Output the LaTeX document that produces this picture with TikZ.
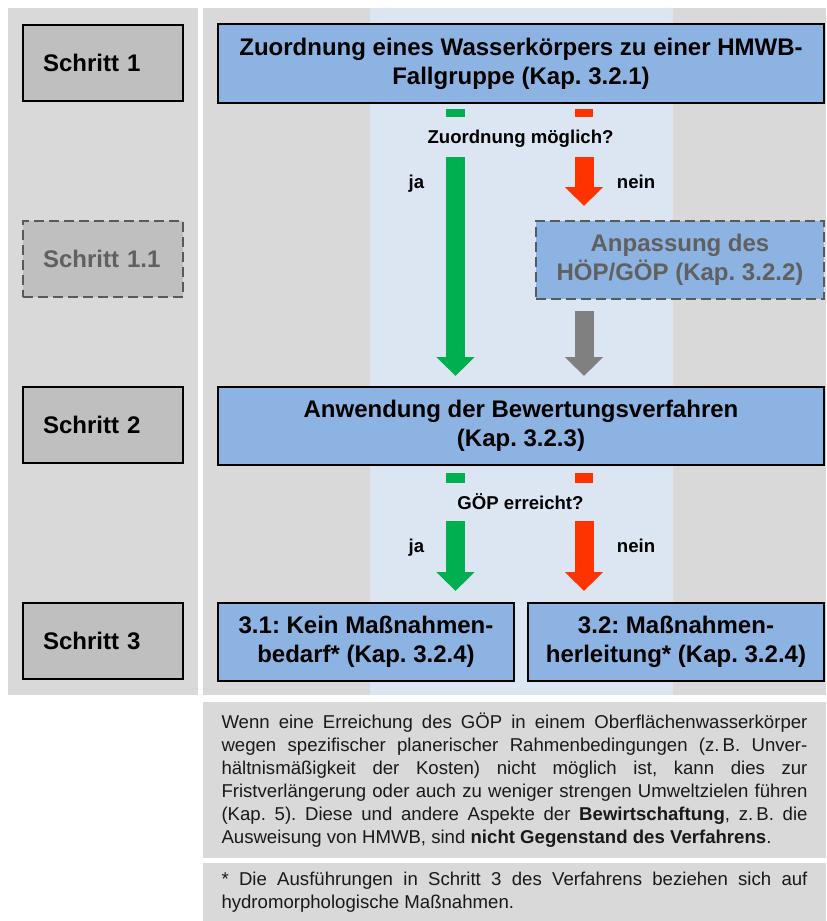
\documentclass[tikz,border=0pt]{standalone}
\usepackage{fontspec}
\setmainfont{Liberation Sans}
\usepackage{tikz}
\usetikzlibrary{arrows.meta}
\frenchspacing

\definecolor{panelgrau}{HTML}{D9D9D9}
\definecolor{spaltenblau}{HTML}{DCE6F2}
\definecolor{boxblau}{HTML}{8DB3E2}
\definecolor{schrittgrau}{HTML}{BFBFBF}
\definecolor{randgrau}{HTML}{595959}
\definecolor{textgrau}{HTML}{606060}
\definecolor{jagruen}{HTML}{00B050}
\definecolor{neinrot}{HTML}{FF3300}
\definecolor{pfeilgrau}{HTML}{808080}

\begin{document}
\begin{tikzpicture}[x=0.5pt, y=-0.5pt,
 schritt/.style={draw=black, line width=1pt, fill=schrittgrau, minimum height=38pt,
  text width=60pt, inner xsep=10pt, align=left, font=\fontsize{12}{14.5}\selectfont\bfseries},
 schrittopt/.style={schritt, draw=randgrau, dash pattern=on 5pt off 2.5pt, text=textgrau},
 stufe/.style={draw=black, line width=1pt, fill=boxblau, minimum height=39pt,
  align=center, font=\fontsize{12}{14.5}\selectfont\bfseries},
 stufeopt/.style={stufe, draw=randgrau, dash pattern=on 5pt off 2.5pt, text=textgrau},
 frage/.style={anchor=base, font=\fontsize{9.3}{11}\selectfont\bfseries},
 pfeil/.style={line width=9.5pt, -{Triangle[width=18.5pt,length=9.5pt]}},
 notiz/.style={fill=panelgrau, text=black!90, text width=293pt, inner xsep=9.25pt,
  align=justify, font=\fontsize{9.3}{11.5}\selectfont}]
 \useasboundingbox (0,0) rectangle (826,921);
 % hintergrund
 \fill[panelgrau] (8,8) rectangle (198,695);
 \fill[panelgrau] (203,8) rectangle (826,695);
 \fill[spaltenblau] (370,8) rectangle (673,695);

 % linke spalte
 \node[schritt] at (103, 62.5)(s1){Schritt 1};
 \node[schrittopt] at (103, 258.5)(s11){Schritt 1.1};
 \node[schritt] at (103, 425)(s2){Schritt 2};
 \node[schritt] at (103, 640.5)(s3){Schritt 3};

 % verfahren
 \node[stufe, minimum width=303pt, minimum height=39.5pt] at (521, 63.5)(zuord){Zuordnung eines Wasserkörpers zu einer HMWB-\\Fallgruppe (Kap. 3.2.1)};
 \node[stufeopt, minimum width=144pt] at (680, 260)(anp){Anpassung des\\HÖP/GÖP (Kap. 3.2.2)};
 \node[stufe, minimum width=303pt] at (521, 426)(anw){Anwendung der Bewertungsverfahren\\(Kap. 3.2.3)};
 \node[stufe, minimum width=148pt] at (366, 642)(kein){3.1: Kein Maßnahmen-\\bedarf* (Kap. 3.2.4)};
 \node[stufe, minimum width=148pt] at (676, 642)(herl){3.2: Maßnahmen-\\herleitung* (Kap. 3.2.4)};

 % fragen
 \fill[jagruen] (446, 109) rectangle (465, 117);
 \fill[neinrot] (575, 109) rectangle (593, 117);
 \node[frage] at (520.5, 143)(f1){Zuordnung möglich?};
 \node[frage] at (416.5, 188)(ja1l){ja};
 \node[frage] at (636, 188)(nein1l){nein};
 \coordinate (ja1) at (455.5, 157);
 \coordinate (nein1) at (584, 157);
 \draw[pfeil, jagruen] (ja1) -- ([yshift=5pt]anw.north -| ja1);
 \draw[pfeil, neinrot] (nein1) -- ([yshift=7pt]anp.north -| nein1);
 \draw[pfeil, pfeilgrau, shorten <=5.5pt] (anp.south -| nein1) -- ([yshift=5pt]anw.north -| nein1);

 \fill[jagruen] (446, 473) rectangle (465, 483);
 \fill[neinrot] (575, 473) rectangle (593, 483);
 \node[frage] at (520.5, 509)(f2){GÖP erreicht?};
 \node[frage] at (416.5, 552)(ja2l){ja};
 \node[frage] at (636, 552)(nein2l){nein};
 \coordinate (ja2) at (455.5, 521);
 \coordinate (nein2) at (584, 521);
 \draw[pfeil, jagruen] (ja2) -- ([yshift=5.5pt]kein.north -| ja2);
 \draw[pfeil, neinrot] (nein2) -- ([yshift=5.5pt]herl.north -| nein2);

 % hinweise
 \node[notiz, minimum height=78pt] at (514.5, 780)(n1){Wenn eine Erreichung des GÖP in einem Oberflächenwasserkörper\linebreak
  wegen spezifischer planerischer Rahmenbedingungen (z.\,B. Unver-\linebreak
  hältnismäßigkeit der Kosten) nicht möglich ist, kann dies zur\linebreak
  Fristverlängerung oder auch zu weniger strengen Umweltzielen führen\linebreak
  (Kap. 5). Diese und andere Aspekte der \textbf{Bewirtschaftung}, z.\,B. die\linebreak
  Ausweisung von HMWB, sind \textbf{nicht Gegenstand des Verfahrens}.};
 \node[notiz, minimum height=29pt] at (514.5, 892)(n2){* Die Ausführungen in Schritt 3 des Verfahrens beziehen sich auf\linebreak
  hydromorphologische Maßnahmen.};
\end{tikzpicture}
\end{document}
